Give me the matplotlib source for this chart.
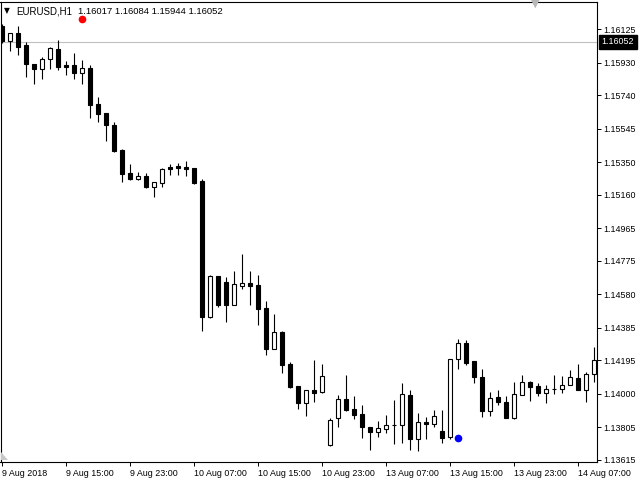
import numpy as np
import matplotlib.pyplot as plt
from matplotlib.patches import Polygon

# EURUSD H1 candles, 9 Aug 07:00 .. 14 Aug 09:00 (broker time)
opens = [1.16145, 1.16060, 1.16103, 1.16035, 1.15924, 1.15893, 1.15951, 1.16011, 1.15918, 1.15918,
         1.15873, 1.15902, 1.15691, 1.15638, 1.15568, 1.15422, 1.15288, 1.15253, 1.15271, 1.15207,
         1.15230, 1.15325, 1.15331, 1.15325, 1.15317, 1.15242, 1.14451, 1.14688, 1.14653, 1.14519,
         1.14630, 1.14647, 1.14635, 1.14501, 1.14262, 1.14361, 1.14175, 1.14047, 1.13947, 1.14023,
         1.14012, 1.13703, 1.13862, 1.13971, 1.13912, 1.13883, 1.13807, 1.13777, 1.13798, 1.13819,
         1.13819, 1.13994, 1.13737, 1.13837, 1.13823, 1.13784, 1.13746, 1.14202, 1.14297, 1.14192,
         1.14099, 1.13901, 1.13982, 1.13953, 1.13860, 1.13996, 1.14070, 1.14046, 1.14004, 1.14027,
         1.14027, 1.14054, 1.14093, 1.14021, 1.14117]
highs = [1.16157, 1.16105, 1.16145, 1.16052, 1.15924, 1.15965, 1.16023, 1.16065, 1.15941, 1.15988,
         1.15947, 1.15918, 1.15731, 1.15638, 1.15586, 1.15428, 1.15341, 1.15294, 1.15288, 1.15236,
         1.15317, 1.15341, 1.15347, 1.15358, 1.15317, 1.15253, 1.14694, 1.14688, 1.14682, 1.14717,
         1.14816, 1.14717, 1.14694, 1.14542, 1.14466, 1.14367, 1.14186, 1.14047, 1.14023, 1.14198,
         1.14177, 1.13860, 1.13994, 1.14111, 1.13988, 1.13936, 1.13807, 1.13843, 1.13877, 1.13965,
         1.14064, 1.14023, 1.13889, 1.13866, 1.13907, 1.13907, 1.14204, 1.14321, 1.14315, 1.14192,
         1.14146, 1.14012, 1.14023, 1.13988, 1.14070, 1.14111, 1.14076, 1.14064, 1.14052, 1.14111,
         1.14105, 1.14140, 1.14177, 1.14128, 1.14274]
lows = [1.16046, 1.16001, 1.15978, 1.15846, 1.15807, 1.15836, 1.15895, 1.15889, 1.15860, 1.15836,
        1.15807, 1.15609, 1.15586, 1.15475, 1.15411, 1.15236, 1.15247, 1.15247, 1.15201, 1.15148,
        1.15207, 1.15277, 1.15277, 1.15271, 1.15224, 1.14367, 1.14445, 1.14507, 1.14420, 1.14519,
        1.14612, 1.14519, 1.14402, 1.14227, 1.14262, 1.14122, 1.14035, 1.13912, 1.13872, 1.13955,
        1.14006, 1.13697, 1.13809, 1.13901, 1.13854, 1.13745, 1.13675, 1.13749, 1.13772, 1.13708,
        1.13714, 1.13673, 1.13668, 1.13737, 1.13809, 1.13714, 1.13737, 1.14144, 1.14169, 1.14062,
        1.13864, 1.13870, 1.13936, 1.13858, 1.13856, 1.13992, 1.13957, 1.13987, 1.13946, 1.13998,
        1.14004, 1.14051, 1.14021, 1.13952, 1.14068]
closes = [1.16058, 1.16103, 1.16025, 1.15922, 1.15893, 1.15953, 1.16017, 1.15908, 1.15908, 1.15873,
          1.15902, 1.15686, 1.15632, 1.15568, 1.15417, 1.15282, 1.15253, 1.15271, 1.15207, 1.15236,
          1.15312, 1.15313, 1.15319, 1.15313, 1.15230, 1.14451, 1.14688, 1.14519, 1.14519, 1.14641,
          1.14647, 1.14630, 1.14495, 1.14262, 1.14361, 1.14169, 1.14041, 1.13947, 1.14023, 1.14007,
          1.14105, 1.13848, 1.13971, 1.13907, 1.13876, 1.13809, 1.13777, 1.13802, 1.13819, 1.13819,
          1.14000, 1.13737, 1.13837, 1.13823, 1.13872, 1.13745, 1.14202, 1.14297, 1.14179, 1.14099,
          1.13901, 1.13977, 1.13953, 1.13860, 1.14000, 1.14070, 1.14042, 1.14004, 1.14029, 1.14027,
          1.14052, 1.14099, 1.14021, 1.14117, 1.14198]

bid = 1.16052
title_ohlc = "1.16017 1.16084 1.15944 1.16052"

# indicator dots (bar index, price)
red_dot = (10, 1.16186)
blue_dot = (57, 1.13745)

price_ticks = [1.16125, 1.15930, 1.15740, 1.15545, 1.15350, 1.15160, 1.14965,
               1.14775, 1.14580, 1.14385, 1.14195, 1.14000, 1.13805, 1.13615]
time_tick_bars = [0, 8, 16, 24, 32, 40, 48, 56, 64, 72]
time_labels = ["9 Aug 2018", "9 Aug 15:00", "9 Aug 23:00", "10 Aug 07:00", "10 Aug 15:00",
               "10 Aug 23:00", "13 Aug 07:00", "13 Aug 15:00", "13 Aug 23:00", "14 Aug 07:00"]

plt.rcParams['font.family'] = ['Liberation Sans', 'DejaVu Sans']

fig = plt.figure(figsize=(6.4, 4.8), dpi=100)
ax = fig.add_axes([0.5 / 640, 18 / 480, 596 / 640, 460 / 480])

o = np.array(opens)
c = np.array(closes)
x = np.arange(len(o))
up = c >= o

# wicks first, bodies on top so hollow candles stay empty inside
ax.vlines(x, lows, highs, color='black', linewidth=0.8, zorder=2)
ax.bar(x[up], (c - o)[up], bottom=o[up], width=0.6, color='white',
       edgecolor='black', linewidth=0.8, zorder=3)
ax.bar(x[~up], (c - o)[~up], bottom=o[~up], width=0.6, color='black',
       edgecolor='black', linewidth=0.8, zorder=3)

ax.axhline(bid, color='#C0C0C0', linewidth=0.8, zorder=1)

ax.plot(*red_dot, 'o', color='red', markersize=4.5, zorder=4, clip_on=False)
ax.plot(*blue_dot, 'o', color='blue', markersize=4.5, zorder=4)

ax.set_xlim(-0.19, 74.31)
ax.set_ylim(1.13603, 1.16285)

ax.yaxis.tick_right()
ax.set_yticks(price_ticks)
ax.set_yticklabels([f"{p:.5f}" for p in price_ticks])
ax.set_xticks(time_tick_bars)
ax.set_xticklabels(time_labels)
ax.tick_params(axis='both', direction='out', length=3, width=0.7, labelsize=6.4, pad=2)
for lbl in ax.get_xticklabels():
    lbl.set_ha('left')
for sp in ax.spines.values():
    sp.set_linewidth(0.8)

# current price tag on the scale
ax.annotate(f"{bid:.5f}", xy=(1.0, bid), xycoords=('axes fraction', 'data'),
            xytext=(3.5, 0), textcoords='offset points', va='center', ha='left',
            fontsize=6.4, color='white',
            bbox=dict(boxstyle='square,pad=0.3', fc='black', ec='black'))

# header line
fig.text(4 / 640, 1 - 11 / 480, "\u25bc", fontsize=5.5, va='center', ha='left',
         family='DejaVu Sans')
fig.text(16 / 640, 1 - 11 / 480, "EURUSD,H1", fontsize=7, va='center', ha='left')
fig.text(78 / 640, 1 - 11 / 480, title_ohlc, fontsize=6.8, va='center', ha='left')
fig.text(535 / 640, 1 - 4 / 480, "\u25bc", fontsize=8, color='#B8B8B8', va='center',
         ha='center', family='DejaVu Sans')

# small grey corner mark bottom-left
fig.patches.append(Polygon([(1 / 640, 1 - 452 / 480), (1 / 640, 1 - 460 / 480),
                            (8 / 640, 1 - 460 / 480)], closed=True,
                           transform=fig.transFigure, fc='#C8C8C8', ec='none'))

fig.savefig("out.png", dpi=100)
